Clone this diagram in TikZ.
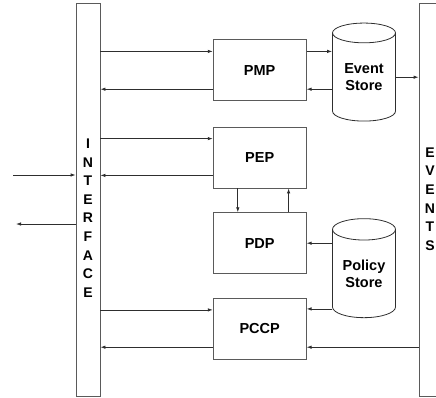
\documentclass[tikz,border=0pt]{standalone}
\usepackage{fontspec}
\setmainfont{Liberation Sans}
\usetikzlibrary{arrows.meta,positioning,calc,shapes.geometric}
\definecolor{edge}{HTML}{5A5A5A}
\definecolor{wire}{HTML}{2E2E2E}
\tikzset{
  blockbox/.style={draw=edge, line width=0.8pt, rectangle, inner sep=0pt,
                   minimum width=93pt, minimum height=61pt, text=black,
                   font=\fontsize{14.5}{17}\selectfont\bfseries},
  barbox/.style={draw=edge, line width=0.8pt, rectangle, inner sep=0pt},
  storebox/.style={draw=wire, line width=0.8pt, cylinder, shape border rotate=90,
                   aspect=0.5, inner sep=0pt, minimum width=63pt, align=center,
                   font=\fontsize{14.5}{17.5}\selectfont\bfseries},
  arr/.style={-{Latex[length=5pt,width=3.5pt]}, line width=0.8pt, color=wire}}

\begin{document}
\begin{tikzpicture}[x=1pt, y=-1pt,
    stack/.style={align=center, inner sep=0pt,
                  font=\fontsize{14}{18.6}\selectfont\bfseries}]
    \useasboundingbox (0,0) rectangle (436,397);
    \node[barbox, minimum width=24pt, minimum height=393pt] (iface) at (88,199.5) {};
    \node[barbox, minimum width=22pt, minimum height=393pt] (events) at (430,199.5) {};
    \node[stack] (ifacetxt) at (88,218) {I\\N\\T\\E\\R\\F\\A\\C\\E};
    \node[stack] (eventstxt) at (430,199) {E\\V\\E\\N\\T\\S};
    \node[blockbox] (pmp) at (259.7,70.3) {PMP};
    \node[blockbox] (pep) at (259.7,157.5) {PEP};
    \node[blockbox] (pdp) at (259.7,243.2) {PDP};
    \node[blockbox] (pccp) at (259.7,328.8) {PCCP};
    \node[storebox, minimum height=98pt] (evstore) at (364,77.2) {Event\\Store};
    \node[storebox, minimum height=99pt] (polstore) at (364,273.7) {Policy\\Store};
    \coordinate (extin) at (13,175);
    \coordinate (extout) at (16,224);
    \draw[arr] ([yshift=-12pt]pmp.north west -| iface.east) -- ([yshift=-12pt]pmp.north west);
    \draw[arr] ([yshift=12pt]pmp.south west) -- ([yshift=12pt]pmp.south west -| iface.east);
    \draw[arr] ([yshift=-12pt]pmp.north east) -- ([yshift=-12pt]pmp.north east -| evstore.west);
    \draw[arr] ([yshift=12pt]pmp.south east -| evstore.west) -- ([yshift=12pt]pmp.south east);
    \draw[arr] (evstore.east) -- (evstore.east -| events.west);
    \draw[arr] ([yshift=-12pt]pep.north west -| iface.east) -- ([yshift=-12pt]pep.north west);
    \draw[arr] ([yshift=13pt]pep.south west) -- ([yshift=13pt]pep.south west -| iface.east);
    \draw[arr] (extin) -- (extin -| iface.west);
    \draw[arr] (extout -| iface.west) -- (extout);
    \draw[arr] ([xshift=25pt]pep.south west) -- ([xshift=25pt]pep.south west |- pdp.north);
    \draw[arr] ([xshift=-18pt]pdp.north east) -- ([xshift=-18pt]pdp.north east |- pep.south);
    \draw[arr] (polstore.west |- pdp.east) -- (pdp.east);
    \draw[arr] ([yshift=-11pt]pccp.north east -| polstore.west) -- ([yshift=-11pt]pccp.north east);
    \draw[arr] ([yshift=-12pt]pccp.north west -| iface.east) -- ([yshift=-12pt]pccp.north west);
    \draw[arr] ([yshift=12.5pt]pccp.south east -| events.west) -- ([yshift=12.5pt]pccp.south east);
    \draw[arr] ([yshift=12.5pt]pccp.south west) -- ([yshift=12.5pt]pccp.south west -| iface.east);
  \end{tikzpicture}
\end{document}
